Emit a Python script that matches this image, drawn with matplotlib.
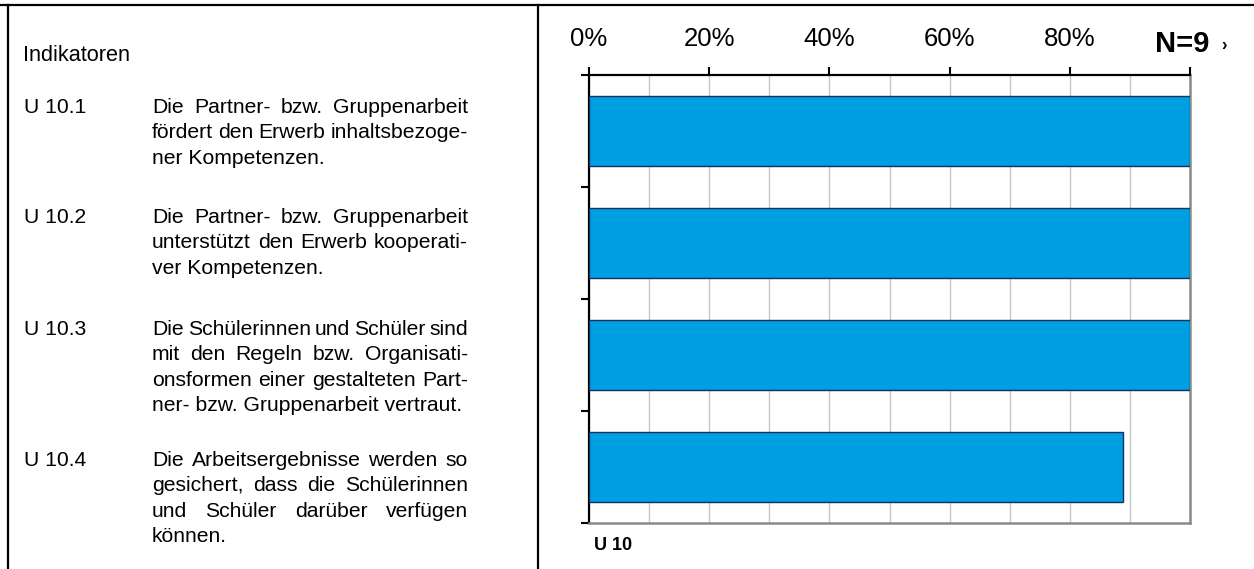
import matplotlib
matplotlib.use("Agg")
import matplotlib.pyplot as plt
from matplotlib.lines import Line2D
from matplotlib.ticker import MultipleLocator

plt.rcParams['font.family'] = ['Liberation Sans', 'DejaVu Sans']

# ------------------------------------------------------------------
# data
# ------------------------------------------------------------------
codes = ["U 10.1", "U 10.2", "U 10.3", "U 10.4"]
share = [1.0, 1.0, 1.0, 0.889]
tick_labels = ["0%", "20%", "40%", "60%", "80%", ""]
n_label = "N=9"
group_label = "U 10"
header = "Indikatoren"
indicator_lines = [
    ["Die Partner- bzw. Gruppenarbeit",
     "fördert den Erwerb inhaltsbezoge-",
     "ner Kompetenzen."],
    ["Die Partner- bzw. Gruppenarbeit",
     "unterstützt den Erwerb kooperati-",
     "ver Kompetenzen."],
    ["Die Schülerinnen und Schüler sind",
     "mit den Regeln bzw. Organisati-",
     "onsformen einer gestalteten Part-",
     "ner- bzw. Gruppenarbeit vertraut."],
    ["Die Arbeitsergebnisse werden so",
     "gesichert, dass die Schülerinnen",
     "und Schüler darüber verfügen",
     "können."],
]

W, H = 1254, 569
fig = plt.figure(figsize=(W / 100, H / 100), dpi=100)


def fx(px):
    return px / W


def fy(py):
    return 1 - py / H


# frame lines of the table
line_kw = dict(color="black", lw=1.6, transform=fig.transFigure)
fig.add_artist(Line2D([0, 1], [fy(5), fy(5)], **line_kw))
fig.add_artist(Line2D([fx(8), fx(8)], [fy(5), 0], **line_kw))
fig.add_artist(Line2D([fx(538), fx(538)], [fy(5), 0], **line_kw))

# ------------------------------------------------------------------
# left column: justified indicator texts
# ------------------------------------------------------------------
txt_size = 15.2
fig.text(fx(23), fy(61), header, fontsize=txt_size + 0.4, va="baseline")

renderer = fig.canvas.get_renderer()
left, right = 152, 468
starts = [113, 223, 335, 466]
step = 25.4

for code, lines, y0 in zip(codes, indicator_lines, starts):
    fig.text(fx(24), fy(y0), code, fontsize=txt_size, va="baseline")
    for i, line in enumerate(lines):
        y = fy(y0 + i * step)
        if i == len(lines) - 1:
            fig.text(fx(left), y, line, fontsize=txt_size, va="baseline")
            continue
        words = line.split()
        widths = []
        for w in words:
            t = fig.text(0, 0, w, fontsize=txt_size)
            widths.append(t.get_window_extent(renderer).width)
            t.remove()
        gap = (right - left - sum(widths)) / (len(words) - 1)
        x = left
        for w, wd in zip(words, widths):
            fig.text(fx(x), y, w, fontsize=txt_size, va="baseline")
            x += wd + gap

# ------------------------------------------------------------------
# right column: bar chart
# ------------------------------------------------------------------
ax = fig.add_axes([fx(589), fy(523), fx(1190 - 589), (523 - 75) / H])
ypos = [i + 0.5 for i in range(len(codes))]
ax.barh(ypos, share, height=0.63, color="#009FE3",
        edgecolor="#17305E", linewidth=1.0, zorder=3)

ax.set_xlim(0, 1)
ax.set_ylim(len(codes), 0)

ax.xaxis.tick_top()
ax.set_xticks([0, 0.2, 0.4, 0.6, 0.8, 1.0])
ax.set_xticklabels(tick_labels, fontsize=18.5)
ax.xaxis.set_minor_locator(MultipleLocator(0.1))
ax.tick_params(axis="x", which="major", direction="out", length=6,
               width=1.5, pad=11, color="black")
ax.tick_params(axis="x", which="minor", length=0)
ax.grid(axis="x", which="both", color="#C8C8C8", lw=1.0, zorder=0)

ax.set_yticks(range(len(codes) + 1))
ax.set_yticklabels([])
ax.tick_params(axis="y", direction="out", length=6, width=1.5, color="black")

for s in ["top", "left"]:
    ax.spines[s].set_color("black")
    ax.spines[s].set_linewidth(1.6)
for s in ["right", "bottom"]:
    ax.spines[s].set_color("#8A8A8A")
    ax.spines[s].set_linewidth(1.8)

fig.text(fx(1182), fy(52), n_label, fontsize=21, fontweight="bold",
         ha="center", va="baseline")
fig.text(fx(1221), fy(50), "›", fontsize=12, fontweight="bold",
         va="baseline")
fig.text(fx(594), fy(550), group_label, fontsize=13, fontweight="bold",
         va="baseline")

fig.savefig("out.png", dpi=100)
